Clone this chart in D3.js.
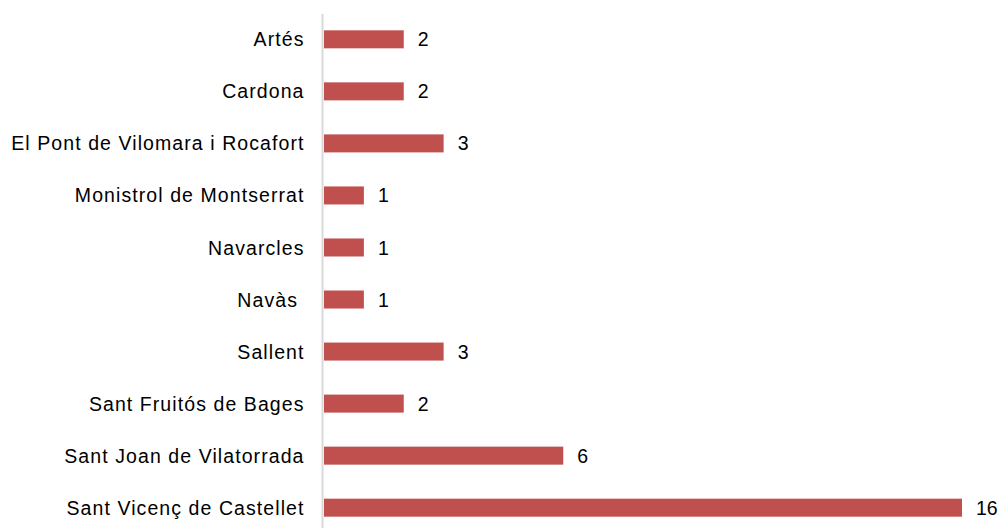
<!DOCTYPE html>
<html><head><meta charset="utf-8">
<script src="https://cdn.jsdelivr.net/npm/d3@7"></script>
<style>body{margin:0;background:#fff}svg{display:block}text{font-family:"Liberation Sans",Arial,sans-serif;white-space:pre}</style>
</head><body>
<script>
const categories = ["Artés","Cardona","El Pont de Vilomara i Rocafort","Monistrol de Montserrat","Navarcles","Navàs ","Sallent","Sant Fruitós de Bages","Sant Joan de Vilatorrada","Sant Vicenç de Castellet"];
const values = [2,2,3,1,1,1,3,2,6,16];

const W=1004,H=528;
const svg=d3.select("body").append("svg").attr("width",W).attr("height",H);
const x=d3.scaleLinear().domain([0,16]).range([324,962]);
const y=d3.scaleBand().domain(categories).range([13.3,533.7]).paddingInner(0.654).paddingOuter(0.327);

svg.append("line").attr("x1",322.5).attr("x2",322.5).attr("y1",14).attr("y2",H).attr("stroke","#d9d9d9").attr("stroke-width",2);

svg.selectAll("rect.bar").data(categories).join("rect").attr("class","bar")
 .attr("x",x(0)).attr("y",d=>y(d)).attr("width",(d,i)=>x(values[i])-x(0)).attr("height",y.bandwidth())
 .attr("fill","#c0504d");

svg.selectAll("text.cat").data(categories).join("text").attr("class","cat")
 .attr("x",304.5).attr("y",d=>y(d)+y.bandwidth()/2).attr("dy","0.36em").attr("text-anchor","end")
 .attr("font-size",19.5).attr("letter-spacing","1.08px").attr("fill","#000").text(d=>d);

svg.selectAll("text.val").data(values).join("text").attr("class","val")
 .attr("x",v=>x(v)+14).attr("y",(v,i)=>y(categories[i])+y.bandwidth()/2).attr("dy","0.36em")
 .attr("font-size",19.5).attr("fill","#000").text(v=>v);
</script>
</body></html>
